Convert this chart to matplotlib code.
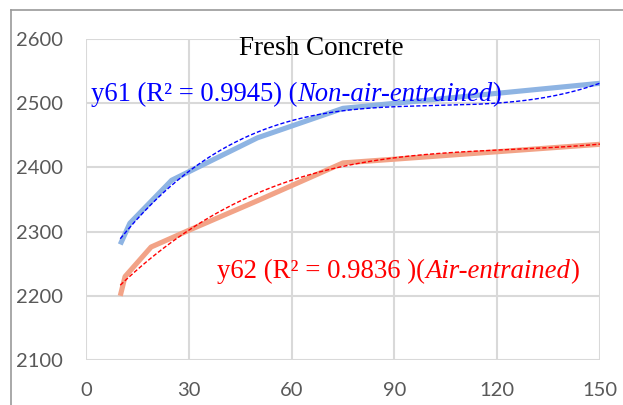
import numpy as np
import matplotlib
matplotlib.use("Agg")
import matplotlib.pyplot as plt
from matplotlib.lines import Line2D

# Data
x_non_air = [10, 12.8, 25, 50, 75, 150]
y_non_air = [2280, 2313, 2380, 2446, 2492, 2531]
x_air = [10, 11.4, 19, 30, 50, 75, 150]
y_air = [2200, 2230, 2276, 2302, 2348, 2407, 2436]

x_ticks = [0, 30, 60, 90, 120, 150]
y_ticks = [2100, 2200, 2300, 2400, 2500, 2600]

title = "Fresh Concrete"
label_blue = ["y61 (R² = 0.9945) (", "Non-air-entrained", ")"]
label_red = ["y62 (R² = 0.9836 )(", "Air-entrained", ")"]

fig = plt.figure(figsize=(6.23, 4.05), dpi=100)
ax = fig.add_axes([86/623, 1-360/405, (600-86)/623, (360-39)/405])

grid_c = "#D9D9D9"
ax.set_xlim(0, 150)
ax.set_ylim(2100, 2600)
ax.set_xticks(x_ticks)
ax.set_yticks(y_ticks)
ax.grid(True, color=grid_c, linewidth=1.5)
for s in ax.spines.values():
    s.set_visible(False)
ax.tick_params(axis="y", length=0, labelsize=14.5, labelcolor="#595959", pad=16.5)
ax.tick_params(axis="x", length=0, labelsize=14.5, labelcolor="#595959", pad=15.5)
for lab in ax.get_xticklabels() + ax.get_yticklabels():
    lab.set_family("Lato")

ax.plot(x_non_air, y_non_air, color="#8EB4E3", linewidth=3.7, solid_capstyle="butt", zorder=3)
ax.plot(x_air, y_air, color="#F2A387", linewidth=3.7, solid_capstyle="butt", zorder=3)

# polynomial trend lines computed from the data
for xs, ys, c in [(x_non_air, y_non_air, "#0000FF"), (x_air, y_air, "#FF0000")]:
    p = np.polyfit(xs, ys, 3)
    xf = np.linspace(min(xs), max(xs), 200)
    ax.plot(xf, np.polyval(p, xf), color=c, linewidth=1.0, linestyle=(0, (3, 1.5)), zorder=4)

fig.text(321/623, 1-55/405, title, ha="center", va="baseline",
         family="Liberation Serif", fontsize=19.5, color="black")

def multi(x, y, parts, color, size):
    t = fig.text(x, y, parts[0], ha="left", va="baseline", family="Liberation Serif",
                 fontsize=size, color=color)
    prev = t
    for i, p in enumerate(parts[1:]):
        style = "italic" if i == 0 else "normal"
        prev = ax.annotate(p, xy=(1, 0), xycoords=prev, va="bottom", ha="left",
                           family="Liberation Serif", fontsize=size, color=color,
                           style=style, annotation_clip=False)

multi(91/623, 1-101/405, label_blue, "#0000FF", 19.2)
multi(217/623, 1-278/405, label_red, "#FF0000", 19.3)

fig.add_artist(Line2D([11/623, 11/623], [0, 1-10/405], transform=fig.transFigure,
                      color="#9A9A9A", linewidth=1.2))
fig.add_artist(Line2D([11/623, 1], [1-10/405, 1-10/405], transform=fig.transFigure,
                      color="#9A9A9A", linewidth=1.2))

fig.savefig("out.png", dpi=100)
